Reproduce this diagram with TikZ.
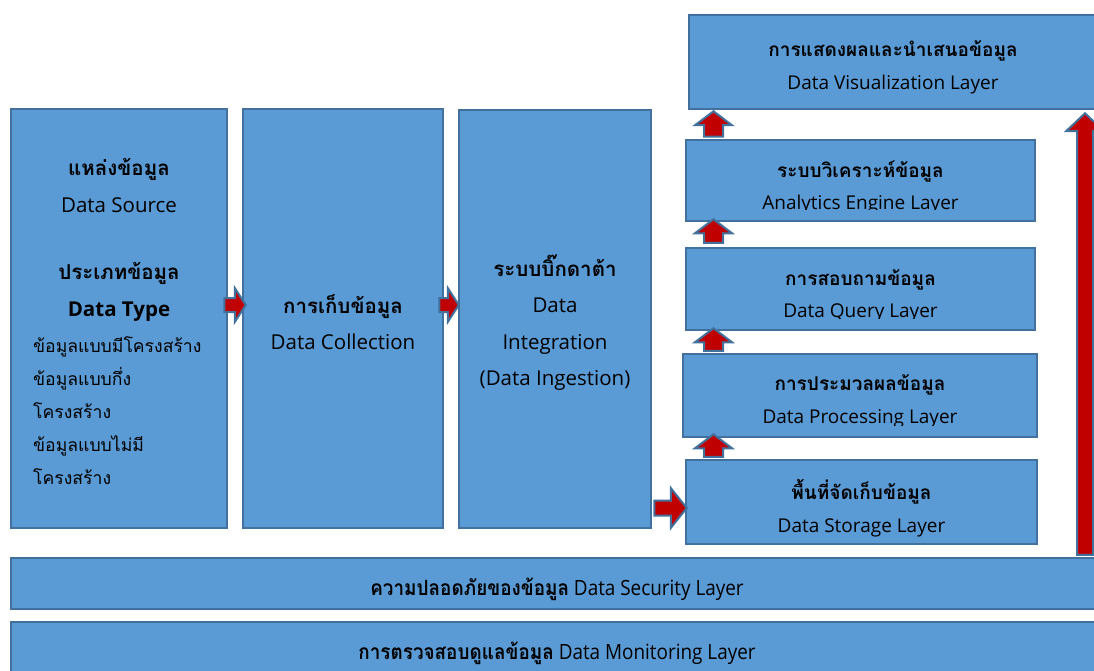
\documentclass[tikz,border=0pt]{standalone}
\usepackage{fontspec}
\usepackage{graphicx}
\setmainfont{Open Sans}
\newfontfamily\thaifont[Script=Thai]{Loma}
\newcommand\thb[1]{{\thaifont\bfseries #1}}
\newcommand\thn[1]{{\thaifont #1}}
\usetikzlibrary{fit,calc}

\definecolor{boxfill}{HTML}{5B9BD5}
\definecolor{boxline}{HTML}{41719C}
\definecolor{arrowred}{HTML}{C00000}

\tikzset{
  layer/.style={draw=boxline, fill=boxfill, line width=2.5pt, inner sep=0pt},
  boxtext/.style={align=center, text=black, inner sep=0pt, font=\fontsize{20.5}{36.5}\selectfont},
  listtext/.style={align=left, text=black, inner sep=0pt, font=\fontsize{17.6}{33}\selectfont},
  laytext/.style={align=center, text=black, inner sep=0pt, font=\fontsize{19}{32.5}\selectfont},
  bartext/.style={text=black, inner sep=0pt, font=\fontsize{21}{22}\selectfont},
  upblk/.style n args={3}{draw=boxline, fill=arrowred, line width=2pt,
    to path={let \p1=(\tikztostart), \p2=(\tikztotarget) in
      (\x1-#1pt,\y1) -- (\x1-#1pt,\y2-#3pt) -- (\x1-#2pt,\y2-#3pt) -- (\x1,\y2)
      -- (\x1+#2pt,\y2-#3pt) -- (\x1+#1pt,\y2-#3pt) -- (\x1+#1pt,\y1) -- cycle}},
  rightblk/.style n args={3}{draw=boxline, fill=arrowred, line width=2pt,
    to path={let \p1=(\tikztostart), \p2=(\tikztotarget) in
      (\x1,\y1-#1pt) -- (\x2-#3pt,\y1-#1pt) -- (\x2-#3pt,\y1-#2pt) -- (\x2,\y1)
      -- (\x2-#3pt,\y1+#2pt) -- (\x2-#3pt,\y1+#1pt) -- (\x1,\y1+#1pt) -- cycle}}
}

\begin{document}
\begin{tikzpicture}[x=1pt, y=-1pt]
  \useasboundingbox (0,0) rectangle (1094,671);
  \clip (0,0) rectangle (1094,671);

  % left column
  \node[layer, fit={(11,109) (227,528)}]  (src) {};
  \node[layer, fit={(243,109) (443,528)}] (col) {};
  \node[layer, fit={(459,110) (651,528)}] (int) {};

  % layer stack
  \node[layer, fit={(689,15) (1097,109)}]   (vis) {};
  \node[layer, fit={(686,140) (1035,221)}]  (ana) {};
  \node[layer, fit={(686,248) (1035,330)}]  (qry) {};
  \node[layer, fit={(683,354) (1037,437)}]  (prc) {};
  \node[layer, fit={(686,460) (1037,544)}]  (sto) {};

  % bottom bars
  \node[layer, fit={(11,558) (1103,609)}] (sec) {};
  \node[layer, fit={(11,622) (1103,673)}] (mon) {};

  \node[boxtext] (srcT) at (119,240)
    {\thb{แหล่งข้อมูล}\\Data Source\\[31pt]\thb{ประเภทข้อมูล}\\\textbf{Data Type}};
  \node[listtext, anchor=west] (srcL) at (33,411)
    {\thn{ข้อมูลแบบมีโครงสร้าง}\\\thn{ข้อมูลแบบกึ่ง}\\\thn{โครงสร้าง}\\\thn{ข้อมูลแบบไม่มี}\\\thn{โครงสร้าง}};
  \node[boxtext] (colT) at (343,322) {\thb{การเก็บข้อมูล}\\Data Collection};
  \node[boxtext] (intT) at (555,322.5)
    {\thb{ระบบบิ๊กดาต้า}\\Data\\Integration\\(Data Ingestion)};

  % text frames cut the last line short
  \foreach \bx/\dy/\cut/\tx in {
      vis/5.5/1.25/{\thb{การแสดงผลและนำเสนอข้อมูล}\\Data Visualization Layer},
      ana/7/13/{\thb{ระบบวิเคราะห์ข้อมูล}\\Analytics Engine Layer},
      qry/7/12.5/{\thb{การสอบถามข้อมูล}\\Data Query Layer},
      prc/6/12.5/{\thb{การประมวลผลข้อมูล}\\Data Processing Layer},
      sto/6/1.25/{\thb{พื้นที่จัดเก็บข้อมูล}\\Data Storage Layer}} {
    \begin{scope}
      \clip ([shift={(1.25pt,\cut pt)}]\bx.south west) rectangle ([shift={(-1.25pt,-1.25pt)}]\bx.north east);
      \node[laytext] (\bx T) at ($(\bx.center)+(0,\dy)$) {\tx};
    \end{scope}
  }

  \node[bartext] (secT) at ($(sec.center)+(0,5.5)$)
    {\scalebox{0.9}[1]{\thb{ความปลอดภัยของข้อมูล} Data Security Layer}};
  \node[bartext] (monT) at ($(mon.center)+(0,5.5)$)
    {\scalebox{0.9}[1]{\thb{การตรวจสอบดูแลข้อมูล} Data Monitoring Layer}};

  % flow arrows
  \draw[rightblk={7}{17}{11}] ($(src.east |- 0,305)+(-4,0)$) to ($(col.west |- 0,305)+(4,0)$);
  \draw[rightblk={7}{17}{11}] ($(col.east |- 0,305)+(-5,0)$) to ($(int.west |- 0,305)+(1,0)$);
  \draw[rightblk={7.5}{20}{16}] ($(int.east |- 0,508)+(2,0)$) to ($(sto.west |- 0,508)+(2,0)$);

  \draw[upblk={9.5}{18.5}{14}] ($(713.5,0 |- sto.north)+(0,-2)$) to ($(713.5,0 |- prc.south)+(0,-4)$);
  \draw[upblk={9.5}{18.5}{14}] ($(713.5,0 |- prc.north)+(0,-2)$) to ($(713.5,0 |- qry.south)+(0,-3)$);
  \draw[upblk={9.5}{18.5}{14}] ($(713.5,0 |- qry.north)+(0,-4)$) to ($(713.5,0 |- ana.south)+(0,-3)$);
  \draw[upblk={9.5}{18.5}{14}] ($(713.5,0 |- ana.north)+(0,-2)$) to ($(713.5,0 |- vis.south)+(0,1)$);

  \draw[upblk={8}{19}{18}] ($(1085,0 |- sec.north)+(0,-2)$) to ($(1085,0 |- vis.south)+(0,3)$);
\end{tikzpicture}
\end{document}
